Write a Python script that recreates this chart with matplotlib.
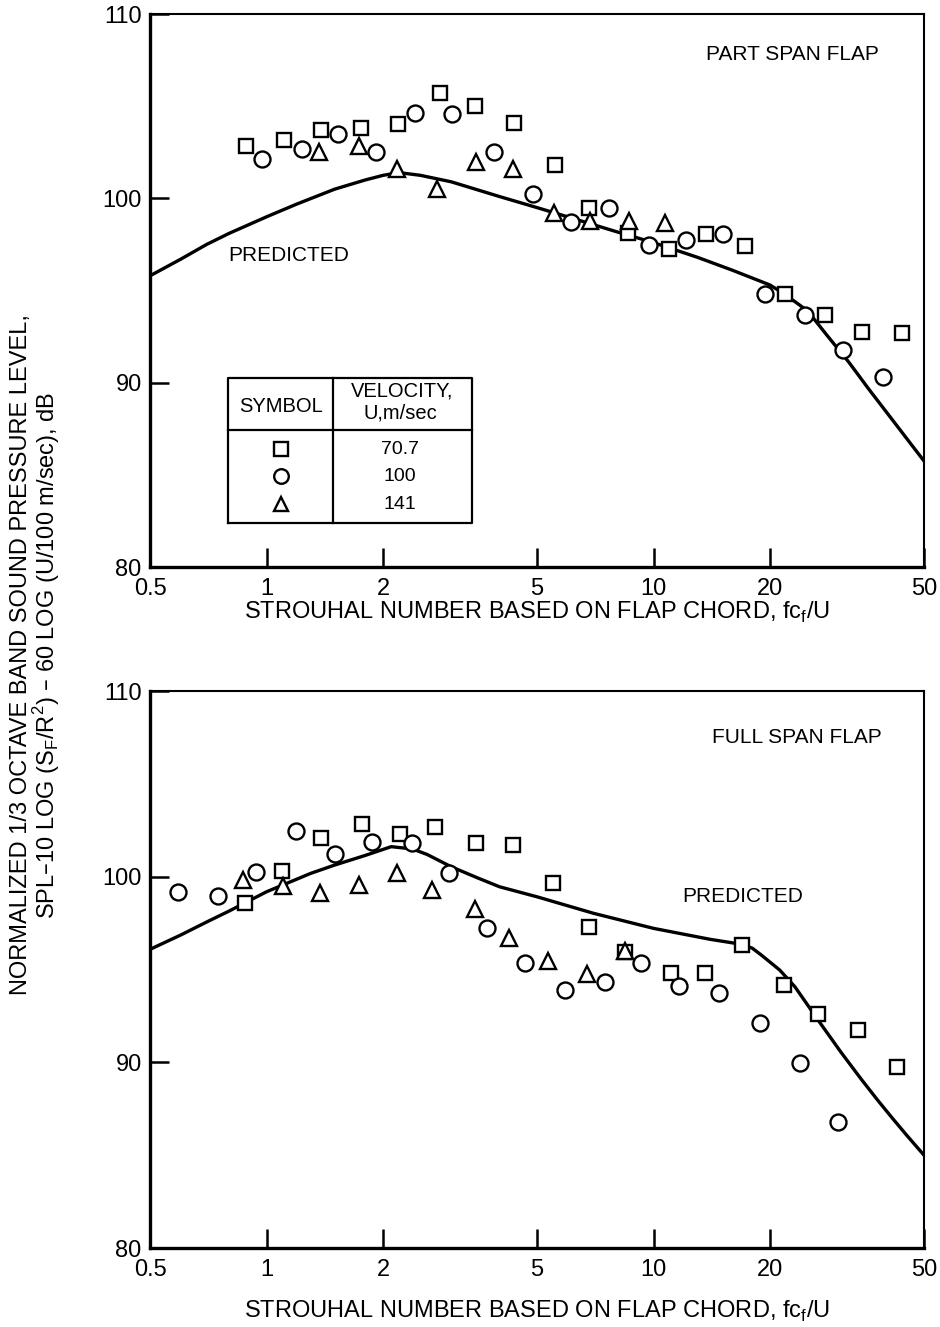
import matplotlib
matplotlib.use("Agg")
import matplotlib.pyplot as plt
from matplotlib.ticker import FixedLocator, NullLocator

plt.rcParams['font.family'] = ['Liberation Sans', 'DejaVu Sans']

# ---- top panel: part span flap ----
top_sq_x = [0.885, 1.11, 1.384, 1.755, 2.19, 2.80, 3.46, 4.35, 5.58, 6.8, 8.61, 10.99, 13.68, 17.2, 21.9, 27.8, 34.6, 43.9]
top_sq_y = [102.84, 103.16, 103.7, 103.8, 104.05, 105.73, 105.0, 104.07, 101.8, 99.46, 98.14, 97.23, 98.05, 97.41, 94.83, 93.67, 92.75, 92.71]
top_ci_x = [0.976, 1.237, 1.53, 1.92, 2.42, 3.02, 3.87, 4.88, 6.12, 7.67, 9.73, 12.1, 15.1, 19.4, 24.7, 30.9, 39.1]
top_ci_y = [102.12, 102.66, 103.47, 102.53, 104.65, 104.56, 102.53, 100.22, 98.72, 99.46, 97.45, 97.74, 98.08, 94.83, 93.67, 91.75, 90.30]
top_tr_x = [1.368, 1.73, 2.17, 2.75, 3.48, 4.33, 5.54, 6.85, 8.66, 10.7]
top_tr_y = [102.5, 102.85, 101.6, 100.5, 101.95, 101.6, 99.2, 98.75, 98.75, 98.65]
top_pred_x = [0.5, 0.6, 0.7, 0.8, 1.0, 1.2, 1.5, 1.8, 2.0, 2.2, 2.5, 3.0, 4.0, 5.0, 6.0, 8.0, 10, 13, 16, 20, 22, 25, 28, 32, 36, 40, 45, 50]
top_pred_y = [95.8, 96.7, 97.5, 98.1, 99.0, 99.7, 100.5, 101.0, 101.25, 101.4, 101.25, 100.9, 100.1, 99.5, 99.0, 98.2, 97.6, 96.8, 96.1, 95.3, 94.75, 93.9, 92.6, 91.1, 89.65, 88.4, 87.0, 85.75]

# ---- bottom panel: full span flap ----
bot_sq_x = [0.878, 1.095, 1.384, 1.764, 2.215, 2.727, 3.47, 4.34, 5.51, 6.83, 8.46, 11.1, 13.6, 16.96, 21.7, 26.6, 33.7, 42.6]
bot_sq_y = [98.60, 100.31, 102.10, 102.82, 102.28, 102.69, 101.80, 101.71, 99.64, 97.31, 95.96, 94.80, 94.80, 96.32, 94.17, 92.59, 91.74, 89.73]
bot_ci_x = [0.591, 0.75, 0.941, 1.189, 1.506, 1.876, 2.376, 2.966, 3.72, 4.66, 5.91, 7.5, 9.27, 11.65, 14.8, 18.8, 23.9, 30.0]
bot_ci_y = [99.16, 98.96, 100.24, 102.48, 101.21, 101.85, 101.80, 100.18, 97.22, 95.37, 93.90, 94.34, 95.37, 94.11, 93.75, 92.13, 89.98, 86.77]
bot_tr_x = [0.867, 1.102, 1.375, 1.738, 2.17, 2.68, 3.45, 4.23, 5.35, 6.73, 8.46]
bot_tr_y = [99.85, 99.5, 99.15, 99.55, 100.2, 99.28, 98.25, 96.72, 95.47, 94.76, 96.0]
bot_pred_x = [0.5, 0.6, 0.7, 0.8, 1.0, 1.3, 1.5, 1.8, 2.1, 2.38, 2.6, 3.0, 3.5, 4.0, 5.0, 7.0, 10, 14, 16.9, 18.0, 19.0, 21.2, 23.2, 27.0, 30.5, 34.4, 38.0, 41.4, 45.0, 50]
bot_pred_y = [96.09, 96.86, 97.56, 98.15, 99.19, 100.18, 100.63, 101.15, 101.62, 101.5, 101.2, 100.54, 99.95, 99.46, 98.92, 98.03, 97.22, 96.63, 96.36, 96.15, 95.78, 94.97, 94.07, 92.10, 90.55, 89.1, 87.95, 87.0, 86.1, 85.0]

x_ticks = [0.5, 1, 2, 5, 10, 20, 50]
x_ticklabels = ['0.5', '1', '2', '5', '10', '20', '50']
y_ticks = [80, 90, 100, 110]
velocities = ['70.7', '100', '141']

mk = dict(linestyle='none', markerfacecolor='white', markeredgecolor='black', markeredgewidth=1.7)


def setup(ax, lpad):
    ax.set_xscale('log')
    ax.set_xlim(0.5, 50)
    ax.set_ylim(80, 110)
    ax.xaxis.set_major_locator(FixedLocator(x_ticks))
    ax.xaxis.set_minor_locator(NullLocator())
    ax.set_xticklabels(x_ticklabels)
    ax.set_yticks(y_ticks)
    ax.tick_params(axis='both', direction='in', length=14, width=1.8, labelsize=17, pad=6)
    ax.tick_params(axis='x', pad=8)
    for s in ['left', 'bottom']:
        ax.spines[s].set_linewidth(2.4)
    for s in ['top', 'right']:
        ax.spines[s].set_linewidth(1.5)
    ax.set_xlabel('STROUHAL NUMBER BASED ON FLAP CHORD, fc$_\\mathregular{f}$/U', fontsize=17, labelpad=lpad)


def draw(ax, sx, sy, cx, cy, tx, ty, px, py):
    ax.plot(px, py, color='black', lw=2.4, zorder=2)
    ax.plot(sx, sy, marker='s', markersize=10.5, zorder=3, **mk)
    ax.plot(cx, cy, marker='o', markersize=11.5, zorder=3, **mk)
    ax.plot(tx, ty, marker='^', markersize=11.5, zorder=3, **mk)


fig = plt.figure(figsize=(9.4, 13.27), dpi=100)
ax1 = fig.add_axes([0.1596, 0.5727, 0.8234, 0.4167])
ax2 = fig.add_axes([0.1596, 0.0595, 0.8234, 0.4197])

setup(ax1, 0)
setup(ax2, 13)

draw(ax1, top_sq_x, top_sq_y, top_ci_x, top_ci_y, top_tr_x, top_tr_y, top_pred_x, top_pred_y)
draw(ax2, bot_sq_x, bot_sq_y, bot_ci_x, bot_ci_y, bot_tr_x, bot_tr_y, bot_pred_x, bot_pred_y)

ax1.text(0.718, 0.927, 'PART SPAN FLAP', transform=ax1.transAxes, fontsize=15, ha='left', va='center')
ax1.text(0.101, 0.563, 'PREDICTED', transform=ax1.transAxes, fontsize=15, ha='left', va='center')
ax2.text(0.726, 0.916, 'FULL SPAN FLAP', transform=ax2.transAxes, fontsize=15, ha='left', va='center')
ax2.text(0.687, 0.632, 'PREDICTED', transform=ax2.transAxes, fontsize=15, ha='left', va='center')

# symbol / velocity table
tL, tR, tM = 0.1008, 0.416, 0.2364
tT, tB, tH = 0.3418, 0.0796, 0.2477
tk = dict(transform=ax1.transAxes, color='black', lw=1.6, zorder=4)
ax1.plot([tL, tR, tR, tL, tL], [tB, tB, tT, tT, tB], **tk)
ax1.plot([tL, tR], [tH, tH], **tk)
ax1.plot([tM, tM], [tB, tT], **tk)
ax1.text((tL + tM) / 2, 0.291, 'SYMBOL', transform=ax1.transAxes, fontsize=14.5, ha='center', va='center')
ax1.text(0.326, 0.318, 'VELOCITY,', transform=ax1.transAxes, fontsize=14.5, ha='center', va='center')
ax1.text(0.323, 0.279, 'U,m/sec', transform=ax1.transAxes, fontsize=14.5, ha='center', va='center')
row_y = [0.2134, 0.1646, 0.1139]
for m, v, yy in zip(['s', 'o', '^'], velocities, row_y):
    ax1.plot([(tL + tM) / 2], [yy], marker=m, markersize=10.5, transform=ax1.transAxes, clip_on=False, **mk)
    ax1.text(0.323, yy, v, transform=ax1.transAxes, fontsize=14, ha='center', va='center')

fig.text(0.022, 0.5064, 'NORMALIZED 1/3 OCTAVE BAND SOUND PRESSURE LEVEL,', rotation=90,
         fontsize=17, ha='center', va='center')
fig.text(0.049, 0.5064, 'SPL\u201310 LOG (S$_\\mathregular{F}$/R$^\\mathregular{2}$) \u2013 60 LOG (U/100 m/sec), dB',
         rotation=90, fontsize=17, ha='center', va='center')

fig.savefig('out.png', dpi=100)
